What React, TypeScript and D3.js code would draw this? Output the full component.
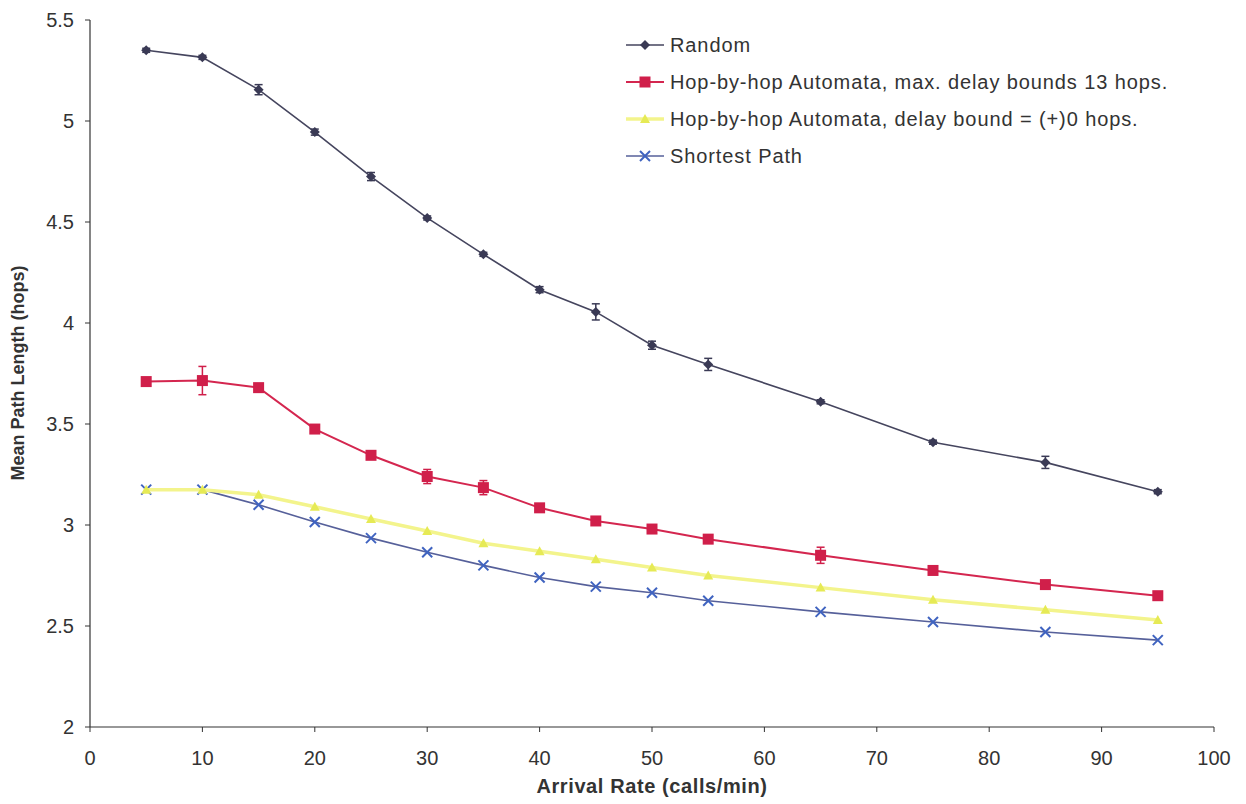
import React from "react";
import * as d3 from "d3";

const xValues = [5, 10, 15, 20, 25, 30, 35, 40, 45, 50, 55, 65, 75, 85, 95];
const randomVals = [5.35, 5.315, 5.155, 4.945, 4.725, 4.52, 4.34, 4.165, 4.055, 3.89, 3.795, 3.61, 3.41, 3.31, 3.165];
const randomErr = [0.01, 0.01, 0.025, 0.015, 0.02, 0.01, 0.01, 0.015, 0.04, 0.02, 0.03, 0.01, 0.01, 0.03, 0.01];
const autoMaxVals = [3.71, 3.715, 3.68, 3.475, 3.345, 3.24, 3.185, 3.085, 3.02, 2.98, 2.93, 2.85, 2.775, 2.705, 2.65];
const autoMaxErr = [0.01, 0.07, 0.01, 0.01, 0.01, 0.035, 0.035, 0.015, 0.02, 0.015, 0.015, 0.04, 0.015, 0.015, 0.01];
const autoZeroVals = [3.175, 3.175, 3.15, 3.09, 3.03, 2.97, 2.91, 2.87, 2.83, 2.79, 2.75, 2.69, 2.63, 2.58, 2.53];
const shortestVals = [3.175, 3.175, 3.1, 3.015, 2.935, 2.865, 2.8, 2.74, 2.695, 2.665, 2.625, 2.57, 2.52, 2.47, 2.43];
const xTicks = [0, 10, 20, 30, 40, 50, 60, 70, 80, 90, 100];
const yTicks = [2, 2.5, 3, 3.5, 4, 4.5, 5, 5.5];
const seriesNames = [
  "Random",
  "Hop-by-hop Automata, max. delay bounds 13 hops.",
  "Hop-by-hop Automata, delay bound = (+)0 hops.",
  "Shortest Path",
];

const W = 1246, H = 804;
const x = d3.scaleLinear().domain([0, 100]).range([90, 1214]);
const y = d3.scaleLinear().domain([2, 5.5]).range([727, 20]);

type Series = { name: string; vals: number[]; err?: number[]; line: string; mark: string; kind: string; width: number };
const series: Series[] = [
  { name: seriesNames[3], vals: shortestVals, line: "#56609a", mark: "#3f63c0", kind: "x", width: 1.6 },
  { name: seriesNames[2], vals: autoZeroVals, line: "#f3f48c", mark: "#e6ea55", kind: "tri", width: 3.5 },
  { name: seriesNames[1], vals: autoMaxVals, err: autoMaxErr, line: "#d4264f", mark: "#d01f4a", kind: "sq", width: 2 },
  { name: seriesNames[0], vals: randomVals, err: randomErr, line: "#45455e", mark: "#3a3a55", kind: "dia", width: 1.6 },
];

function Marker({ kind, cx, cy, color }: { kind: string; cx: number; cy: number; color: string }) {
  if (kind === "sq") return <rect x={cx - 5.5} y={cy - 5.5} width={11} height={11} fill={color} />;
  if (kind === "dia") return <path d={`M${cx},${cy - 5}L${cx + 5},${cy}L${cx},${cy + 5}L${cx - 5},${cy}Z`} fill={color} />;
  if (kind === "tri") return <path d={`M${cx},${cy - 5}L${cx + 5},${cy + 4}L${cx - 5},${cy + 4}Z`} fill={color} />;
  return (
    <g stroke={color} strokeWidth={2}>
      <line x1={cx - 5} y1={cy - 5} x2={cx + 5} y2={cy + 5} />
      <line x1={cx - 5} y1={cy + 5} x2={cx + 5} y2={cy - 5} />
    </g>
  );
}

export default function App() {
  const line = d3.line<number>().x((_, i) => x(xValues[i])).y((v) => y(v));
  const legendOrder = [3, 2, 1, 0];
  return (
    <svg width={W} height={H} style={{ position: "absolute", left: 0, top: 0, background: "#fff" }} fontFamily="Liberation Sans, Arial, sans-serif">
      <rect width={W} height={H} fill="#fff" />
      <line x1={90} y1={y(5.5)} x2={90} y2={727} stroke="#333" strokeWidth={1.2} />
      <line x1={90} y1={727} x2={x(100)} y2={727} stroke="#333" strokeWidth={1.2} />
      {yTicks.map((t) => (
        <g key={t}>
          <line x1={85} x2={90} y1={y(t)} y2={y(t)} stroke="#333" />
          <text x={74} y={y(t)} dy="0.36em" textAnchor="end" fontSize={20} fill="#333">{t}</text>
        </g>
      ))}
      {xTicks.map((t) => (
        <g key={t}>
          <line x1={x(t)} x2={x(t)} y1={727} y2={732} stroke="#333" />
          <text x={x(t)} y={765} textAnchor="middle" fontSize={20} fill="#333">{t}</text>
        </g>
      ))}
      <text x={652} y={793} textAnchor="middle" fontSize={20} letterSpacing={0.6} fontWeight="bold" fill="#333">Arrival Rate (calls/min)</text>
      <text transform={`translate(24,373) rotate(-90)`} textAnchor="middle" fontSize={18} fontWeight="bold" fill="#333">Mean Path Length (hops)</text>
      {series.map((s) => (
        <g key={s.name}>
          <path d={line(s.vals) || ""} fill="none" stroke={s.line} strokeWidth={s.width} />
          {s.err && s.vals.map((v, i) => {
            const cx = x(xValues[i]);
            const e = s.err![i];
            return (
              <g key={i} stroke={s.mark} strokeWidth={1.5}>
                <line x1={cx} x2={cx} y1={y(v + e)} y2={y(v - e)} />
                <line x1={cx - 4} x2={cx + 4} y1={y(v + e)} y2={y(v + e)} />
                <line x1={cx - 4} x2={cx + 4} y1={y(v - e)} y2={y(v - e)} />
              </g>
            );
          })}
          {s.vals.map((v, i) => (
            <Marker key={i} kind={s.kind} cx={x(xValues[i])} cy={y(v)} color={s.mark} />
          ))}
        </g>
      ))}
      {legendOrder.map((si, row) => {
        const s = series[si];
        const ly = 45 + row * 37;
        return (
          <g key={s.name}>
            <line x1={626} x2={664} y1={ly} y2={ly} stroke={s.line} strokeWidth={s.width} />
            <Marker kind={s.kind} cx={645} cy={ly} color={s.mark} />
            <text x={670} y={ly} dy="0.36em" fontSize={20} letterSpacing={0.9} fill="#333">{s.name}</text>
          </g>
        );
      })}
    </svg>
  );
}
